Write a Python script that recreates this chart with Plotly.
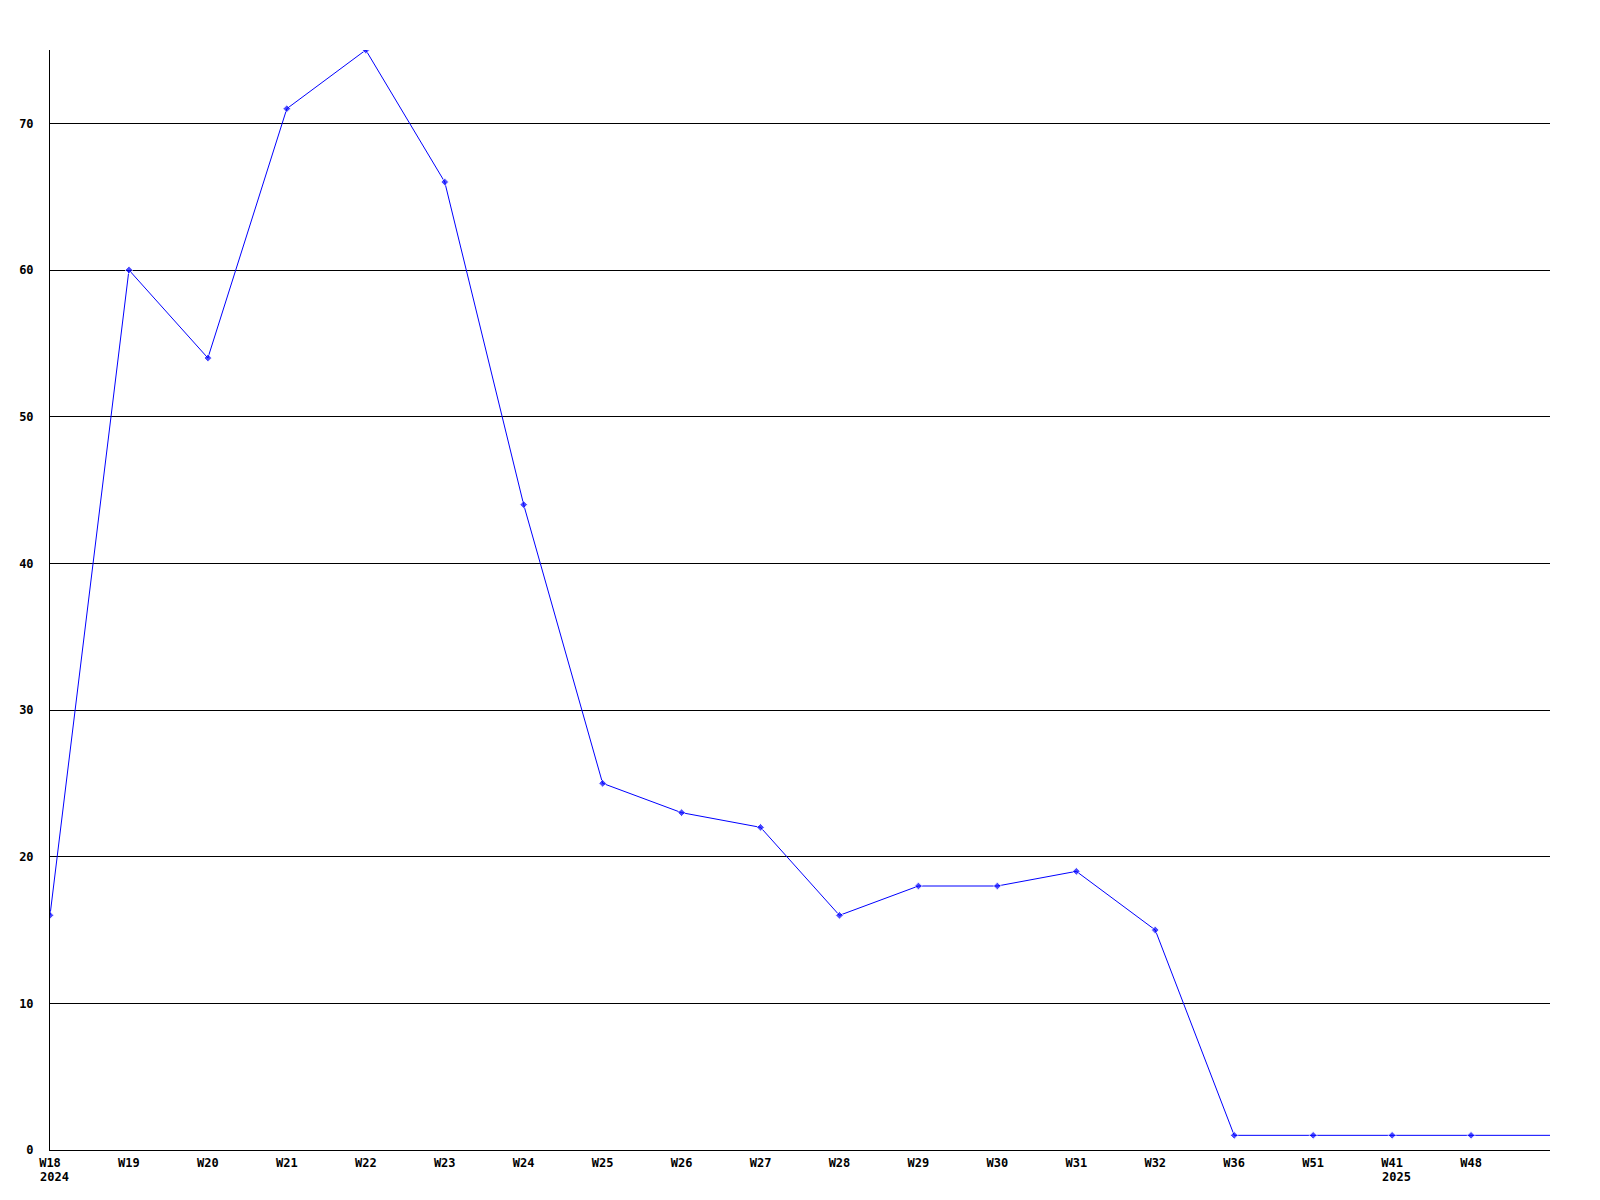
import plotly.graph_objects as go

weeks = ["W18", "W19", "W20", "W21", "W22", "W23", "W24", "W25", "W26", "W27",
         "W28", "W29", "W30", "W31", "W32", "W36", "W51", "W41", "W48", ""]
values = [16, 60, 54, 71, 75, 66, 44, 25, 23, 22,
          16, 18, 18, 19, 15, 1, 1, 1, 1, 1]
year_weeks = ["W18", "W41"]
year_labels = ["2024", "2025"]
y_ticks = [0, 10, 20, 30, 40, 50, 60, 70]

xs = list(range(len(weeks)))
marker_sizes = [6 if w else 0 for w in weeks]

FONT = dict(family="DejaVu Sans Mono", size=12, color="black")

fig = go.Figure()
fig.add_trace(go.Scatter(
    x=xs, y=values, mode="lines+markers",
    line=dict(color="#0000ff", width=1),
    marker=dict(symbol="diamond", size=marker_sizes, color="#0000ff"),
    hoverinfo="skip", showlegend=False,
))

for w, yl in zip(year_weeks, year_labels):
    fig.add_annotation(
        x=weeks.index(w), y=0, xref="x", yref="paper",
        text="<b>%s</b>" % yl, showarrow=False,
        xanchor="left", yanchor="top", xshift=-12, yshift=-18,
        font=FONT,
    )

fig.update_layout(
    width=1600, height=1200,
    margin=dict(l=42, r=58, t=42, b=58),
    paper_bgcolor="white", plot_bgcolor="white",
    font=FONT,
)
fig.update_xaxes(
    range=[0, len(weeks) - 1],
    tickmode="array", tickvals=xs[:-1],
    ticktext=["<b>%s</b>" % w for w in weeks[:-1]],
    showgrid=False, zeroline=False,
    showline=True, linecolor="black", linewidth=1,
    ticks="", ticklabelstandoff=2, tickangle=0,
)
fig.update_yaxes(
    range=[0, 75],
    tickmode="array", tickvals=y_ticks,
    ticktext=["<b>%d</b>" % v for v in y_ticks],
    showgrid=True, gridcolor="black", gridwidth=1,
    zeroline=False,
    showline=True, linecolor="black", linewidth=1,
    ticks="", ticklabelstandoff=13,
)

fig.write_html("out.html")
